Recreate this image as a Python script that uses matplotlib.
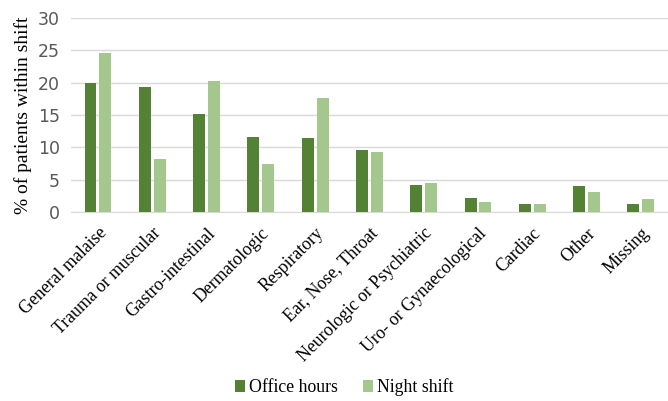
import matplotlib
matplotlib.use("Agg")
import matplotlib.pyplot as plt
import numpy as np

categories = ["General malaise", "Trauma or muscular", "Gastro-intestinal", "Dermatologic",
              "Respiratory", "Ear, Nose, Throat", "Neurologic or Psychiatric",
              "Uro- or Gynaecological", "Cardiac", "Other", "Missing"]
office_hours = [20.0, 19.4, 15.1, 11.6, 11.4, 9.6, 4.2, 2.2, 1.2, 4.0, 1.3]
night_shift = [24.6, 8.2, 20.2, 7.4, 17.6, 9.3, 4.5, 1.6, 1.2, 3.1, 2.1]
yticks = [0, 5, 10, 15, 20, 25, 30]

fig = plt.figure(figsize=(6.68, 4.01), dpi=100)
ax = fig.add_axes([0.106, 0.471, 0.894, 0.484])

x = np.arange(len(categories))
w = 0.22
off = 0.137
ax.bar(x - off, office_hours, width=w, color="#548235", label="Office hours", zorder=3)
ax.bar(x + off, night_shift, width=w, color="#A4C78D", label="Night shift", zorder=3)

ax.set_xlim(-0.5, len(categories) - 0.5)
ax.set_ylim(0, 30)
ax.set_yticks(yticks)
ax.set_yticklabels([str(t) for t in yticks], fontsize=12.5, color="#595959", family="DejaVu Sans")
ax.yaxis.grid(True, color="#d9d9d9", linewidth=1.0, zorder=0)
ax.set_axisbelow(True)
for s in ["top", "right", "left"]:
    ax.spines[s].set_visible(False)
ax.spines["bottom"].set_color("#d9d9d9")
ax.tick_params(axis="both", length=0)
ax.tick_params(axis="y", pad=8)

ax.set_xticks(x)
ax.set_xticklabels(categories, rotation=45, ha="right", rotation_mode="anchor",
                   fontsize=12.8, family="Liberation Serif")
ax.tick_params(axis="x", pad=9)
ax.set_ylabel("% of patients within shift", fontsize=14, family="Liberation Serif", labelpad=4)

fig.legend(loc="lower center", bbox_to_anchor=(0.515, -0.028), ncol=2, frameon=False,
           prop={"family": "Liberation Serif", "size": 12.8}, handlelength=0.6,
           handleheight=0.6, handletextpad=0.2, columnspacing=1.4)

fig.savefig("out.png", dpi=100)
